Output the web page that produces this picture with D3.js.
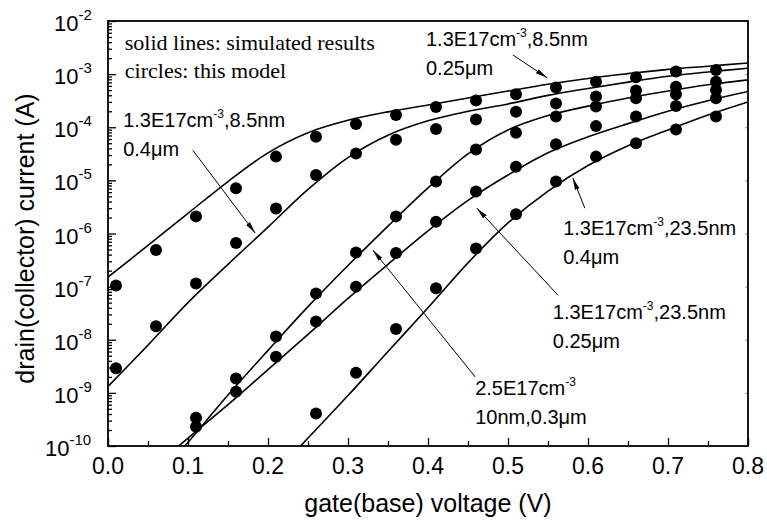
<!DOCTYPE html>
<html><head><meta charset="utf-8">
<script src="https://cdn.jsdelivr.net/npm/d3@7"></script>
<style>
body{margin:0;background:#fff;}
svg{display:block;}
.sans{font-family:"Liberation Sans",Arial,Helvetica,sans-serif;}
.serif{font-family:"Liberation Serif","Times New Roman",serif;}
</style></head>
<body>
<script>
// ---------- data ----------
const xTicks = [0.0,0.1,0.2,0.3,0.4,0.5,0.6,0.7,0.8];
const yTickExps = [-10,-9,-8,-7,-6,-5,-4,-3,-2];

// gate voltages of the model points (circles)
const circleV = [0.01,0.06,0.11,0.16,0.21,0.26,0.31,0.36,0.41,0.46,0.51,0.56,0.61,0.66,0.71,0.76];
// circles: this model (null = no point)
const modelA = [1.05e-7,4.9e-7,2.1e-6,7.1e-6,2.8e-5,6.6e-5,1.15e-4,1.7e-4,2.4e-4,3.2e-4,4.2e-4,5.6e-4,7.2e-4,8.7e-4,1.12e-3,1.2e-3];
const modelB = [2.9e-9,1.8e-8,1.15e-7,6.6e-7,2.95e-6,1.26e-5,3.2e-5,5.8e-5,9.3e-5,1.4e-4,1.95e-4,2.8e-4,3.8e-4,4.9e-4,5.8e-4,7.2e-4];
const modelC = [null,null,3.4e-10,1.86e-9,1.15e-8,7.4e-8,4.4e-7,2.1e-6,9.5e-6,3.8e-5,7.9e-5,1.6e-4,2.45e-4,3.5e-4,4.2e-4,5.0e-4];
const modelD = [null,null,2.3e-10,1.05e-9,4.8e-9,2.2e-8,1.0e-7,4.3e-7,1.66e-6,6.2e-6,1.8e-5,4.8e-5,1.05e-4,1.6e-4,2.5e-4,3.5e-4];
const modelE = [null,null,null,null,null,4.1e-10,2.4e-9,1.6e-8,9.3e-8,5.2e-7,2.3e-6,9.5e-6,2.8e-5,5.0e-5,9.1e-5,1.6e-4];

// solid lines: simulated results
const simV = [0,0.05,0.1,0.15,0.2,0.25,0.3,0.35,0.4,0.45,0.5,0.55,0.6,0.65,0.7,0.75,0.8];
const simA = [1.51e-7,6.0e-7,2.4e-6,9.5e-6,3.3e-5,7.9e-5,1.35e-4,1.95e-4,2.63e-4,3.55e-4,4.8e-4,6.46e-4,8.3e-4,1.02e-3,1.23e-3,1.41e-3,1.62e-3];
const simB = [1.32e-9,7.94e-9,5.0e-8,2.63e-7,1.32e-6,6.76e-6,2.69e-5,7.08e-5,1.32e-4,2.0e-4,2.75e-4,3.98e-4,5.37e-4,7.08e-4,9.12e-4,1.10e-3,1.29e-3];
const simC = [null,1.58e-11,1.17e-10,9.1e-10,6.3e-9,4.2e-8,2.5e-7,1.38e-6,7.2e-6,3.16e-5,8.9e-5,1.66e-4,2.5e-4,3.55e-4,4.8e-4,6.3e-4,7.8e-4];
const simD = [null,3.2e-11,1.41e-10,6.0e-10,2.75e-9,1.26e-8,6.0e-8,2.63e-7,1.12e-6,4.2e-6,1.26e-5,3.3e-5,6.6e-5,1.17e-4,2.0e-4,3.16e-4,4.7e-4];
const simE = [null,null,null,null,2.2e-11,1.41e-10,8.9e-10,6.0e-9,4.0e-8,2.8e-7,1.58e-6,6.3e-6,1.9e-5,4.5e-5,8.9e-5,1.7e-4,3.0e-4];

// annotation labels (text lines, anchor in data units: voltage, current)
const labelTexts = [
  {lines:[["1.3E17cm","-3",",8.5nm"],["0.25\u03bcm"]], v:0.3975, i:3.4e-3},
  {lines:[["1.3E17cm","-3",",8.5nm"],["0.4\u03bcm"]], v:0.019, i:1.0e-4},
  {lines:[["1.3E17cm","-3",",23.5nm"],["0.4\u03bcm"]], v:0.569, i:9.3e-7},
  {lines:[["1.3E17cm","-3",",23.5nm"],["0.25\u03bcm"]], v:0.556, i:2.45e-8},
  {lines:[["2.5E17cm","-3",""],["10nm,0.3\u03bcm"]], v:0.459, i:9.1e-10}
];
// arrows: from (v0,i0) to (v1,i1)
const arrows = [
  {v0:0.506,i0:2.3e-3, v1:0.549,i1:8.5e-4},
  {v0:0.106,i0:3.7e-5, v1:0.184,i1:1.02e-6},
  {v0:0.596,i0:3.0e-6, v1:0.581,i1:1.11e-5},
  {v0:0.5625,i0:6.9e-8, v1:0.461,i1:3.0e-6},
  {v0:0.459,i0:2.0e-9, v1:0.331,i1:4.9e-7}
];
const legendLines = ["solid lines: simulated results","circles: this model"];
const xTitle = "gate(base) voltage (V)";
const yTitle = "drain(collector) current (A)";

// ---------- drawing ----------
const W=767,H=527;
const m={left:108,right:19,top:21,bottom:81};
const svg=d3.select("body").append("svg").attr("width",W).attr("height",H);
const x=d3.scaleLinear().domain([0,0.8]).range([m.left,W-m.right]);
const y=d3.scaleLog().domain([1e-10,1e-2]).range([H-m.bottom,m.top]);

svg.append("defs").append("clipPath").attr("id","clip").append("rect")
  .attr("x",m.left).attr("y",m.top).attr("width",W-m.left-m.right).attr("height",H-m.top-m.bottom);
const mk=svg.select("defs").append("marker").attr("id","arr").attr("viewBox","0 0 12 6")
  .attr("refX",12).attr("refY",3).attr("markerWidth",12).attr("markerHeight",6)
  .attr("markerUnits","userSpaceOnUse").attr("orient","auto");
mk.append("path").attr("d","M0,0.6 L12,3 L0,5.4 Z").attr("fill","#000");

// axes
const minorX=d3.range(0.05,0.8,0.1);
const minorY=[];
yTickExps.slice(0,-1).forEach(e=>{for(let k=2;k<=9;k++)minorY.push(k*Math.pow(10,e));});
const majorY=yTickExps.map(e=>Math.pow(10,e));

function styleAxis(g){g.select(".domain").remove();g.selectAll("line").attr("stroke","#000").attr("stroke-width",1.3);}
svg.append("g").attr("transform",`translate(0,${y.range()[0]})`)
  .call(d3.axisBottom(x).tickValues(xTicks).tickSize(-8).tickFormat("")).call(styleAxis);
svg.append("g").attr("transform",`translate(0,${y.range()[0]})`)
  .call(d3.axisBottom(x).tickValues(minorX).tickSize(-5).tickFormat("")).call(styleAxis);
svg.append("g").attr("transform",`translate(${x.range()[0]},0)`)
  .call(d3.axisLeft(y).tickValues(majorY).tickSize(-8).tickFormat("")).call(styleAxis);
svg.append("g").attr("transform",`translate(${x.range()[0]},0)`)
  .call(d3.axisLeft(y).tickValues(minorY).tickSize(-4).tickFormat("")).call(styleAxis);
// mirrored faint ticks on right
svg.append("g").attr("transform",`translate(${x.range()[1]},0)`)
  .call(d3.axisRight(y).tickValues(majorY).tickSize(-3).tickFormat("")).call(styleAxis)
  .selectAll("line").attr("stroke","#888").attr("stroke-width",0.8);

// frame
svg.append("rect").attr("x",m.left).attr("y",m.top).attr("width",W-m.left-m.right).attr("height",H-m.top-m.bottom)
  .attr("fill","none").attr("stroke","#000").attr("stroke-width",1.8);

// tick labels
svg.append("g").attr("class","sans").selectAll("text").data(xTicks).join("text")
  .attr("x",d=>x(d)).attr("y",y.range()[0]+28).attr("text-anchor","middle")
  .attr("font-size",23).text(d=>d3.format(".1f")(d));
const yl=svg.append("g").attr("class","sans").selectAll("text").data(yTickExps).join("text")
  .attr("y",d=>y(Math.pow(10,d))+10).attr("text-anchor","start").attr("font-size",22)
  .attr("x",d=>m.left-54+(d<=-10?-9:0));
yl.append("tspan").text("10");
yl.append("tspan").attr("dy",-11).attr("font-size",15).text(d=>String(d));

// axis titles
svg.append("text").attr("class","sans").attr("x",(x.range()[0]+x.range()[1])/2).attr("y",H-15)
  .attr("text-anchor","middle").attr("font-size",25).text(xTitle);
svg.append("text").attr("class","sans").attr("transform",`translate(34,${(y.range()[0]+y.range()[1])/2+5}) rotate(-90)`)
  .attr("text-anchor","middle").attr("font-size",25).text(yTitle);

// lines
const plot=svg.append("g").attr("clip-path","url(#clip)");
const line=d3.line().defined(d=>d[1]!=null).x(d=>x(d[0])).y(d=>y(d[1])).curve(d3.curveCatmullRom.alpha(0.5));
[simA,simB,simC,simD,simE].forEach(s=>{
  plot.append("path").attr("d",line(simV.map((v,i)=>[v,s[i]]))).attr("fill","none").attr("stroke","#000").attr("stroke-width",1.6);
});
// circles
[modelA,modelB,modelC,modelD,modelE].forEach(s=>{
  plot.append("g").selectAll("circle").data(circleV.map((v,i)=>[v,s[i]]).filter(d=>d[1]!=null)).join("circle")
    .attr("cx",d=>x(d[0])).attr("cy",d=>y(d[1])).attr("r",6).attr("fill","#000");
});

// arrows
svg.append("g").selectAll("line").data(arrows).join("line")
  .attr("x1",d=>x(d.v0)).attr("y1",d=>y(d.i0)).attr("x2",d=>x(d.v1)).attr("y2",d=>y(d.i1))
  .attr("stroke","#000").attr("stroke-width",1).attr("marker-end","url(#arr)");

// labels
labelTexts.forEach(L=>{
  L.lines.forEach((ln,k)=>{
    const t=svg.append("text").attr("class","sans").attr("x",x(L.v)).attr("y",y(L.i)+k*29).attr("font-size",20);
    t.append("tspan").text(ln[0]);
    if(ln.length>1){
      t.append("tspan").attr("dy",-9).attr("font-size",12).text(ln[1]);
      t.append("tspan").attr("dy",9).text(ln[2]);
    }
  });
});
// legend
legendLines.forEach((s,k)=>{
  svg.append("text").attr("class","serif").attr("x",x(0.021)).attr("y",y(2.8e-3)+k*28).attr("font-size",22).text(s);
});
</script>
</body></html>
